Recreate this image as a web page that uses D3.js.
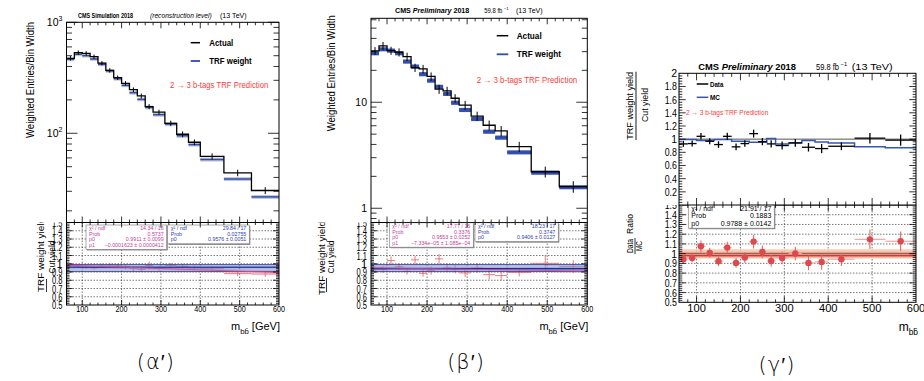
<!DOCTYPE html>
<html>
<head>
<meta charset="utf-8">
<script src="https://cdn.jsdelivr.net/npm/d3@7"></script>
<style>
    body { margin: 0; background: #fff; }
    svg { display: block; }
</style>
</head>
<body>
<svg id="fig" width="924" height="381"></svg>
<script>
const FONT = '"Liberation Sans", Arial, Helvetica, sans-serif';

// ---------------- data ----------------
// m_bb bin edges (GeV)
const binEdges = [60, 80, 100, 120, 140, 160, 180, 200, 220, 240, 260, 280, 310, 340, 370, 400, 460, 530, 600];
const xTickLabels = [100, 200, 300, 400, 500, 600];
const ratioTickLabels = [0.5, 0.6, 0.7, 0.8, 0.9, 1, 1.1, 1.2, 1.3, 1.4, 1.5];
const gammaTickLabels = [0.2, 0.4, 0.6, 0.8, 1, 1.2, 1.4, 1.6, 1.8, 2];
const alphaLogLabels = [[100, '10', '2'], [1000, '10', '3']];
const betaLogLabels = [[1, '1', ''], [10, '10', '']];

// (a') simulation, reconstruction level
const alphaActual = [474, 532, 525, 490, 428, 369, 317, 282, 247, 217, 174, 155, 123, 98, 83, 62, 44, 30.5];
const alphaActualErr = [22, 25, 24, 22, 19, 17, 15, 13, 12, 11, 9, 8, 7, 6, 5, 4, 3, 2.2];
const alphaTrf = [464, 515, 500, 467, 418, 364, 310, 270, 232, 202, 171, 147, 121, 95, 79, 58, 38.7, 26.7];
const alphaTrfErr = [18, 20, 19, 18, 16, 14, 12, 10, 9, 8, 7, 6, 5, 4, 3.2, 2.4, 1.6, 1.1];
const alphaRatio = [0.98, 0.97, 0.955, 0.95, 0.975, 0.985, 0.975, 0.96, 0.94, 0.93, 0.98, 0.945, 0.98, 0.97, 0.95, 0.94, 0.88, 0.875];
const alphaRatioErr = [0.02, 0.02, 0.02, 0.02, 0.025, 0.025, 0.025, 0.03, 0.03, 0.03, 0.045, 0.03, 0.03, 0.03, 0.03, 0.03, 0.03, 0.035];
const alphaFit = { pol1: [0.9911, -0.0001623], pol0: 0.9576 };
const alphaBox1 = [['χ² / ndf', '14.34 / 16'], ['Prob', '0.5737'], ['p0', '0.9911 ± 0.0099'], ['p1', '−0.0001623 ± 0.0000412']];
const alphaBox2 = [['χ² / ndf', '29.84 / 17'], ['Prob', '0.02755'], ['p0', '0.9576 ± 0.0051']];

// (b') 2018 data
const betaActual = [30.5, 34, 30.7, 29.6, 26.9, 21.2, 20.6, 17.5, 13.3, 12.8, 10.9, 9.4, 7.4, 6.07, 5.36, 3.81, 2.21, 1.6];
const betaActualErr = [2.6, 3, 2.7, 2.6, 2.4, 1.9, 1.9, 1.6, 1.3, 1.2, 1.0, 0.9, 0.75, 0.65, 0.6, 0.42, 0.26, 0.2];
const betaTrf = [29.0, 31.6, 30.7, 29.0, 24.2, 21.7, 18.4, 16.0, 14.0, 12.0, 9.9, 8.46, 6.95, 5.28, 4.64, 3.37, 2.17, 1.58];
const betaTrfErr = [1.3, 1.4, 1.4, 1.3, 1.1, 1.0, 0.83, 0.72, 0.63, 0.54, 0.45, 0.38, 0.31, 0.24, 0.21, 0.15, 0.1, 0.07];
const betaRatio = [0.929, 0.929, 1.038, 0.965, 0.908, 1.047, 0.884, 0.917, 1.059, 0.95, 0.932, 0.889, 0.948, 0.868, 0.856, 0.896, 1.005, 0.965];
const betaRatioErr = [0.04, 0.04, 0.05, 0.04, 0.04, 0.05, 0.04, 0.05, 0.06, 0.05, 0.05, 0.05, 0.06, 0.06, 0.06, 0.05, 0.1, 0.08];
const betaFit = { pol1: [0.9553, -0.00007334], pol0: 0.9406 };
const betaBox1 = [['χ² / ndf', '17.77 / 16'], ['Prob', '0.3376'], ['p0', '0.9553 ± 0.0252'], ['p1', '−7.334e−05 ± 1.085e−04']];
const betaBox2 = [['χ² / ndf', '18.23 / 17'], ['Prob', '0.3747'], ['p0', '0.9406 ± 0.0127']];

// (g') TRF yield / cut yield, data vs MC
const gammaData = [0.928, 0.933, 1.043, 0.968, 0.918, 1.043, 0.883, 0.933, 1.084, 0.963, 0.928, 0.903, 0.943, 0.877, 0.857, 0.892, 1.015, 0.985];
const gammaDataErr = [0.045, 0.045, 0.05, 0.045, 0.05, 0.055, 0.05, 0.05, 0.06, 0.055, 0.055, 0.06, 0.06, 0.065, 0.07, 0.06, 0.08, 0.085];
const gammaMC = [0.993, 0.993, 0.978, 0.978, 0.993, 0.993, 0.968, 0.968, 0.953, 0.953, 1.008, 0.928, 0.943, 0.978, 0.958, 0.943, 0.883, 0.868];
const gammaRatio = [0.943, 0.956, 1.076, 1.007, 0.922, 1.062, 0.905, 0.96, 1.124, 1.018, 0.925, 0.956, 1.001, 0.905, 0.915, 0.943, 1.147, 1.127];
const gammaRatioErr = [0.04, 0.045, 0.06, 0.05, 0.05, 0.06, 0.05, 0.055, 0.07, 0.065, 0.06, 0.065, 0.07, 0.075, 0.08, 0.07, 0.1, 0.1];
const gammaFit = 0.9788;
const gammaBox = [['χ² / ndf', '21.91 / 17'], ['Prob', '0.1883'], ['p0', '0.9788 ± 0.0142']];

// ---------------- helpers ----------------
const svg = d3.select('#fig');

function addText(g, x, y, str, size, o = {}) {
    let t = g.append('text')
        .attr('x', x).attr('y', y)
        .attr('text-anchor', o.anchor || 'start')
        .style('font-family', o.family || FONT)
        .style('font-size', size + 'px')
        .style('font-weight', o.weight || 'normal')
        .style('font-style', o.style || 'normal')
        .style('fill', o.fill || '#000')
        .text(str);
    if (o.width) t.attr('textLength', o.width).attr('lengthAdjust', 'spacingAndGlyphs');
    if (o.transform) t.attr('transform', o.transform);
    return t;
}

// "59.8 fb" plus a separate superscript so the two never share one box
function lumiText(g, x, y, size, w) {
    addText(g, x, y, '59.8 fb', size, { width: w });
    addText(g, x + w + 1.6, y - size * 0.42, '−1', size * 0.6);
}

function binsOf(vals, errs) {
    return vals.map((v, i) => ({
        lo: binEdges[i], hi: binEdges[i + 1],
        c: (binEdges[i] + binEdges[i + 1]) / 2,
        v: v, e: errs ? errs[i] : 0
    }));
}

function frame(g, x0, x1, y0, y1) {
    g.append('rect')
        .attr('x', x0).attr('y', y0)
        .attr('width', x1 - x0).attr('height', y1 - y0)
        .style('fill', 'none').style('stroke', '#000').style('stroke-width', 1);
}

function xTickMarks(g, x, y0, y1, maj, min) {
    let vals = d3.range(80, 600, 20);
    [[y1, -1], [y0, 1]].forEach(([base, dir]) => {
        g.selectAll(null).data(vals).join('line')
            .attr('x1', d => x(d)).attr('x2', d => x(d))
            .attr('y1', base).attr('y2', d => base + dir * (d % 100 === 0 ? maj : min))
            .style('stroke', '#000').style('stroke-width', 0.8);
    });
}

function yTickMarks(g, y, vals, isMajor, x0, x1, maj, min) {
    [[x0, 1], [x1, -1]].forEach(([base, dir]) => {
        g.selectAll(null).data(vals).join('line')
            .attr('y1', d => y(d)).attr('y2', d => y(d))
            .attr('x1', base).attr('x2', d => base + dir * (isMajor(d) ? maj : min))
            .style('stroke', '#000').style('stroke-width', 0.8);
    });
}

function xLabels(g, x, yBase, size, w) {
    xTickLabels.forEach(v => addText(g, x(v), yBase, String(v), size, { anchor: 'middle', width: w }));
}

function dottedGrid(g, x, y, x0, x1, y0, y1, yVals) {
    g.selectAll(null).data(yVals).join('line')
        .attr('x1', x0).attr('x2', x1)
        .attr('y1', d => y(d)).attr('y2', d => y(d))
        .style('stroke', '#222').style('stroke-width', 0.6).style('stroke-dasharray', '1.5,1.5');
    g.selectAll(null).data([100, 200, 300, 400, 500]).join('line')
        .attr('x1', d => x(d)).attr('x2', d => x(d))
        .attr('y1', y0).attr('y2', y1)
        .style('stroke', '#222').style('stroke-width', 0.6).style('stroke-dasharray', '1.5,1.5');
}

function statBox(g, x0, y0, w, rows, color, size, lh) {
    let h = rows.length * lh + 2;
    g.append('rect').attr('x', x0 + 1).attr('y', y0 + 1).attr('width', w).attr('height', h)
        .style('fill', '#777');
    g.append('rect').attr('x', x0).attr('y', y0).attr('width', w).attr('height', h)
        .style('fill', '#fff').style('stroke', '#888').style('stroke-width', 0.7);
    rows.forEach((r, i) => {
        let by = y0 + lh * (i + 1) - 0.5;
        addText(g, x0 + 3, by, r[0], size, { fill: color });
        addText(g, x0 + w - 3, by, r[1], size, { fill: color, anchor: 'end' });
    });
}

function isTenth(d) { return Math.abs(d * 10 - Math.round(d * 10)) < 1e-6; }

function mbbTitle(g, xRight, yBase, withUnit, size) {
    let t = g.append('text')
        .attr('x', xRight).attr('y', yBase)
        .attr('text-anchor', 'end')
        .style('font-family', FONT).style('font-size', size + 'px');
    t.append('tspan').text('m');
    t.append('tspan').attr('dy', 4).style('font-size', (size * 0.7) + 'px').text('bb\u0304');
    if (withUnit) t.append('tspan').attr('dy', -4).text(' [GeV]');
    return t;
}

// ---------------- alpha / beta panels ----------------
function drawHistPanel(cfg) {
    let g = svg.append('g');
    let x = d3.scaleLinear().domain([60, 600]).range([cfg.x0, cfg.x1]);
    let y = d3.scaleLog().domain(cfg.yDomain).range([cfg.mid, cfg.top]);
    let yr = d3.scaleLinear().domain([0.5, 1.5]).range([cfg.bot, cfg.mid]);

    let actual = binsOf(cfg.actual, cfg.actualErr);
    let trf = binsOf(cfg.trf, cfg.trfErr);
    let ratio = binsOf(cfg.ratio, cfg.ratioErr);

    // header
    let hx = cfg.header;
    addText(g, hx[0][0], cfg.headerY, hx[0][1], 7, { weight: 'bold', width: hx[0][2] })
        .call(t => { if (cfg.prelim) { t.text(null); t.append('tspan').text('CMS '); t.append('tspan').style('font-style', 'italic').text('Preliminary'); t.append('tspan').text(' 2018'); } });
    if (cfg.prelim) lumiText(g, hx[1][0], cfg.headerY, 7, hx[1][2]);
    else addText(g, hx[1][0], cfg.headerY, hx[1][1], 7, { style: 'italic', width: hx[1][2] });
    addText(g, hx[2][0], cfg.headerY, hx[2][1], 7, { width: hx[2][2] });

    // ---- upper pad ----
    // TRF weight band
    g.selectAll('.trfband').data(trf).join('rect')
        .attr('x', d => x(d.lo)).attr('width', d => x(d.hi) - x(d.lo))
        .attr('y', d => y(d.v + d.e)).attr('height', d => y(d.v - d.e) - y(d.v + d.e))
        .style('fill', cfg.bandColor);
    g.selectAll('.trfline').data(trf).join('line')
        .attr('x1', d => x(d.lo)).attr('x2', d => x(d.hi))
        .attr('y1', d => y(d.v)).attr('y2', d => y(d.v))
        .style('stroke', '#2d4db0').style('stroke-width', cfg.trfWidth);

    // actual histogram
    let pts = actual.map(d => [d.lo, d.v]).concat([[600, actual[actual.length - 1].v]]);
    let step = d3.line().x(d => x(d[0])).y(d => y(d[1])).curve(d3.curveStepAfter);
    g.append('path').datum(pts).attr('d', step)
        .style('fill', 'none').style('stroke', '#000').style('stroke-width', 1.3);
    g.selectAll('.acterr').data(actual).join('line')
        .attr('x1', d => x(d.c)).attr('x2', d => x(d.c))
        .attr('y1', d => y(d.v - d.e)).attr('y2', d => y(d.v + d.e))
        .style('stroke', '#000').style('stroke-width', 1);

    frame(g, cfg.x0, cfg.x1, cfg.top, cfg.mid);
    yTickMarks(g, y, y.ticks(), d => Math.abs(Math.log10(d) - Math.round(Math.log10(d))) < 1e-6, cfg.x0, cfg.x1, 11, 5.5);
    xTickMarks(g, x, cfg.top, cfg.mid, 6, 3);
    cfg.logLabels.forEach(([v, base, exp]) => {
        addText(g, cfg.x0 - 4 - (exp ? 4 : 0), y(v) + 4, base, 10.5, { anchor: 'end' });
        if (exp) addText(g, cfg.x0 - 4, y(v) - 1, exp, 7, { anchor: 'end' });
    });
    addText(g, 0, 0, 'Weighted Entries/Bin Width', 10.5, {
        anchor: 'middle', width: 116, transform: `translate(${cfg.titleX},${cfg.titleY}) rotate(-90)`
    });

    // legend
    let lg = cfg.legend;
    g.append('line').attr('x1', lg.lx0).attr('x2', lg.lx1).attr('y1', lg.y1).attr('y2', lg.y1)
        .style('stroke', '#000').style('stroke-width', 1.5);
    g.append('line').attr('x1', lg.lx0).attr('x2', lg.lx1).attr('y1', lg.y2).attr('y2', lg.y2)
        .style('stroke', '#2d4db0').style('stroke-width', 1.8);
    addText(g, lg.tx, lg.y1 + 3, 'Actual', 8.5, { weight: 'bold', width: lg.w1 });
    addText(g, lg.tx, lg.y2 + 3, 'TRF weight', 8.5, { weight: 'bold', width: lg.w2 });
    addText(g, lg.rx, lg.ry, '2 → 3 b-tags TRF Prediction', 8.5, { fill: '#ff3b3b', width: lg.rw });

    // ---- lower pad ----
    svg.append('clipPath').attr('id', 'clip' + cfg.id)
        .append('rect').attr('x', cfg.padX).attr('y', cfg.mid).attr('width', 300).attr('height', 381 - cfg.mid);
    let lo = svg.append('g').attr('clip-path', `url(#clip${cfg.id})`);

    dottedGrid(lo, x, yr, cfg.x0, cfg.x1, cfg.mid, cfg.bot, ratioTickLabels.slice(1, -1));

    // pol1 fit band
    let pol = v => cfg.fit.pol1[0] + cfg.fit.pol1[1] * v;
    let polArea = d3.area().x(d => x(d)).y0(d => yr(pol(d) - 0.02)).y1(d => yr(pol(d) + 0.02));
    lo.append('path').datum([60, 600]).attr('d', polArea).style('fill', '#f5b8cc').style('opacity', 0.75);

    // ratio points
    lo.selectAll('.rh').data(ratio).join('line')
        .attr('x1', d => x(d.lo)).attr('x2', d => x(d.hi))
        .attr('y1', d => yr(d.v)).attr('y2', d => yr(d.v))
        .style('stroke', '#e86a6a').style('stroke-width', 0.9);
    lo.selectAll('.rv').data(ratio).join('line')
        .attr('x1', d => x(d.c)).attr('x2', d => x(d.c))
        .attr('y1', d => yr(d.v - d.e)).attr('y2', d => yr(d.v + d.e))
        .style('stroke', '#e86a6a').style('stroke-width', 0.9);

    // pol0 fit band
    lo.append('rect').attr('x', cfg.x0).attr('width', cfg.x1 - cfg.x0)
        .attr('y', yr(0.99)).attr('height', yr(0.905) - yr(0.99))
        .style('fill', '#7d8fd6').style('opacity', 0.55);
    lo.append('rect').attr('x', cfg.x0).attr('width', cfg.x1 - cfg.x0)
        .attr('y', yr(cfg.fit.pol0 + 0.012)).attr('height', yr(cfg.fit.pol0 - 0.012) - yr(cfg.fit.pol0 + 0.012))
        .style('fill', '#4a5db8').style('opacity', 0.45);
    [0.99, 0.905].forEach(v => lo.append('line').attr('x1', cfg.x0).attr('x2', cfg.x1)
        .attr('y1', yr(v)).attr('y2', yr(v)).style('stroke', '#2a3580').style('stroke-width', 0.8));
    lo.append('line').attr('x1', cfg.x0).attr('x2', cfg.x1)
        .attr('y1', yr(cfg.fit.pol0)).attr('y2', yr(cfg.fit.pol0))
        .style('stroke', '#1d2b8f').style('stroke-width', 1.1);
    lo.append('line').attr('x1', x(60)).attr('x2', x(600))
        .attr('y1', yr(pol(60))).attr('y2', yr(pol(600)))
        .style('stroke', '#d04c9c').style('stroke-width', 0.9);

    statBox(lo, cfg.box1[0], cfg.box1[1], cfg.box1[2], cfg.boxRows1, '#c5409a', 5.3, 5.6);
    statBox(lo, cfg.box2[0], cfg.box2[1], cfg.box2[2], cfg.boxRows2, '#3240b0', 5.3, 5.6);

    frame(lo, cfg.x0, cfg.x1, cfg.mid, cfg.bot);
    let ratioTicks = d3.range(26, 75).map(k => k / 50);
    yTickMarks(lo, yr, ratioTicks, isTenth, cfg.x0, cfg.x1, 6, 3);
    xTickMarks(lo, x, cfg.mid, cfg.bot, 5, 2.5);
    ratioTickLabels.forEach(v => addText(lo, cfg.x0 - 4, yr(v) + 4, String(v), 11,
        { anchor: 'end', width: v === 1 ? null : 10.5 }));
    xLabels(lo, x, cfg.bot + 7, 9.5, 12);

    // ratio axis title
    let rt = cfg.rTitle;
    addText(lo, 0, 0, 'TRF weight yield', 9.5, { anchor: 'middle', width: 74, transform: `translate(${rt.x1},${rt.y}) rotate(-90)` });
    addText(lo, 0, 0, 'Cut yield', 9.5, { anchor: 'middle', width: 33, transform: `translate(${rt.x2},${rt.y2}) rotate(-90)` });
    lo.append('line').attr('x1', rt.bar).attr('x2', rt.bar).attr('y1', rt.b0).attr('y2', rt.b1)
        .style('stroke', '#000').style('stroke-width', 0.8);

    mbbTitle(lo, cfg.x1 + 1, cfg.bot + 25, true, 11);

    addText(svg, cfg.capX, cfg.capY, '(' + cfg.cap + '′)', 21, { anchor: 'middle', family: '"DejaVu Sans", sans-serif' })
        .style('font-weight', 300).style('letter-spacing', '1px');
}

drawHistPanel({
    id: 'a', padX: 0, prelim: false,
    x0: 66.5, x1: 279, top: 22.3, mid: 222.5, bot: 305,
    yDomain: [15.7, 1000], logLabels: alphaLogLabels,
    actual: alphaActual, actualErr: alphaActualErr, trf: alphaTrf, trfErr: alphaTrfErr,
    ratio: alphaRatio, ratioErr: alphaRatioErr, fit: alphaFit,
    bandColor: '#c4c6d0', trfWidth: 1.5,
    headerY: 18.3,
    header: [[78, 'CMS Simulation 2018', 55], [150, '(reconstruction level)', 61.7], [220, '(13 TeV)', 26.7]],
    titleX: 33.5, titleY: 80,
    legend: { lx0: 190.7, lx1: 200, y1: 42.7, y2: 61, tx: 209.3, w1: 24, w2: 42.4, rx: 170, ry: 88, rw: 98.3 },
    box1: [86, 225, 80.7], box2: [167.7, 225, 81.6], boxRows1: alphaBox1, boxRows2: alphaBox2,
    rTitle: { x1: 44, x2: 54.5, y: 255, y2: 257, bar: 46.5, b0: 279, b1: 292 },
    cap: 'α', capX: 155.8, capY: 369
});

drawHistPanel({
    id: 'b', padX: 300, prelim: true,
    x0: 371, x1: 587.3, top: 18.3, mid: 222.5, bot: 305,
    yDomain: [0.734, 61.9], logLabels: betaLogLabels,
    actual: betaActual, actualErr: betaActualErr, trf: betaTrf, trfErr: betaTrfErr,
    ratio: betaRatio, ratioErr: betaRatioErr, fit: betaFit,
    bandColor: '#3652b0', trfWidth: 1.2,
    headerY: 13.3,
    header: [[395, 'CMS Preliminary 2018', 74.3], [484.3, '59.8 fb', 18], [516, '(13 TeV)', 26.7]],
    titleX: 335, titleY: 73.3,
    legend: { lx0: 496.7, lx1: 508.3, y1: 35.7, y2: 54.3, tx: 516.7, w1: 25, w2: 44.3, rx: 476.7, ry: 83, rw: 100.6 },
    box1: [389.3, 222.8, 84], box2: [475, 222.8, 83.3], boxRows1: betaBox1, boxRows2: betaBox2,
    rTitle: { x1: 324.5, x2: 334, y: 258, y2: 257, bar: 326.5, b0: 278, b1: 292 },
    cap: 'β', capX: 466, capY: 369
});

// ---------------- gamma panel ----------------
(function drawGamma() {
    let g = svg.append('g');
    let x0 = 679, x1 = 916, top = 73.3, mid = 205, bot = 302.3;
    let x = d3.scaleLinear().domain([60, 600]).range([x0, x1]);
    let y = d3.scaleLinear().domain([0, 2]).range([mid, top]);
    let yr = d3.scaleLinear().domain([0.5, 1.5]).range([bot, mid]);

    let data = binsOf(gammaData, gammaDataErr);
    let mc = binsOf(gammaMC);
    let ratio = binsOf(gammaRatio, gammaRatioErr);

    // header
    let h = addText(g, 698.3, 70, '', 9.5, { weight: 'bold', width: 97.7 });
    h.append('tspan').text('CMS ');
    h.append('tspan').style('font-style', 'italic').text('Preliminary');
    h.append('tspan').text(' 2018');
    lumiText(g, 816, 70, 9.5, 23);
    addText(g, 851.7, 70, '(13 TeV)', 9.5, { width: 41 });

    // upper pad
    g.append('line').attr('x1', x0).attr('x2', x1).attr('y1', y(1)).attr('y2', y(1))
        .style('stroke', '#555').style('stroke-width', 1);
    let pts = mc.map(d => [d.lo, d.v]).concat([[600, mc[mc.length - 1].v]]);
    g.append('path').datum(pts)
        .attr('d', d3.line().x(d => x(d[0])).y(d => y(d[1])).curve(d3.curveStepAfter))
        .style('fill', 'none').style('stroke', '#3456b8').style('stroke-width', 1.5);
    g.selectAll('.dh').data(data).join('line')
        .attr('x1', d => x(d.lo)).attr('x2', d => x(d.hi))
        .attr('y1', d => y(d.v)).attr('y2', d => y(d.v))
        .style('stroke', '#000').style('stroke-width', 1.3);
    g.selectAll('.dv').data(data).join('line')
        .attr('x1', d => x(d.c)).attr('x2', d => x(d.c))
        .attr('y1', d => y(d.v - d.e)).attr('y2', d => y(d.v + d.e))
        .style('stroke', '#000').style('stroke-width', 1.3);

    frame(g, x0, x1, top, mid);
    let yt = d3.range(1, 50).map(k => k * 0.04);
    yTickMarks(g, y, yt, d => Math.abs(d * 5 - Math.round(d * 5)) < 1e-6, x0, x1, 6.7, 3.3);
    xTickMarks(g, x, top, mid, 7, 3.5);
    gammaTickLabels.forEach(v => addText(g, 677, y(v) + 4, String(v), 10.5,
        { anchor: 'end', width: String(v).length > 1 ? 12.3 : null }));

    addText(g, 0, 0, 'TRF weight yield', 9.5, { anchor: 'middle', width: 68, transform: 'translate(633,105.8) rotate(-90)' });
    addText(g, 0, 0, 'Cut yield', 9.5, { anchor: 'middle', width: 34, transform: 'translate(648,105) rotate(-90)' });
    g.append('line').attr('x1', 636).attr('x2', 636).attr('y1', 71.7).attr('y2', 140)
        .style('stroke', '#000').style('stroke-width', 0.9);

    // legend
    g.append('line').attr('x1', 696.7).attr('x2', 708.3).attr('y1', 84).attr('y2', 84)
        .style('stroke', '#000').style('stroke-width', 1.5);
    g.append('line').attr('x1', 696.7).attr('x2', 708.3).attr('y1', 97.3).attr('y2', 97.3)
        .style('stroke', '#3456b8').style('stroke-width', 1.5);
    addText(g, 710, 86.6, 'Data', 7, { weight: 'bold', width: 13.3 });
    addText(g, 710, 99.9, 'MC', 7, { weight: 'bold', width: 10 });
    addText(g, 686, 115, '2 → 3 b-tags TRF Prediction', 7, { fill: '#ff3b3b', width: 82.3 });

    // lower pad
    svg.append('clipPath').attr('id', 'clipg')
        .append('rect').attr('x', 600).attr('y', mid).attr('width', 324).attr('height', 381 - mid);
    let lo = svg.append('g').attr('clip-path', 'url(#clipg)');

    dottedGrid(lo, x, yr, x0, x1, mid, bot, ratioTickLabels.slice(1, -1));

    // fit band
    lo.append('rect').attr('x', x0).attr('width', x1 - x0)
        .attr('y', yr(1.045)).attr('height', yr(0.95) - yr(1.045))
        .style('fill', '#f9c3a6').style('opacity', 0.85);
    lo.append('rect').attr('x', x0).attr('width', x1 - x0)
        .attr('y', yr(1.018)).attr('height', yr(0.962) - yr(1.018))
        .style('fill', '#f08c7c').style('opacity', 0.75);
    lo.append('line').attr('x1', x0).attr('x2', x1).attr('y1', yr(1)).attr('y2', yr(1))
        .style('stroke', '#555').style('stroke-width', 0.8);
    lo.append('line').attr('x1', x0).attr('x2', x1).attr('y1', yr(gammaFit)).attr('y2', yr(gammaFit))
        .style('stroke', '#c83a3a').style('stroke-width', 1.2);

    lo.selectAll('.rh').data(ratio).join('line')
        .attr('x1', d => x(d.lo)).attr('x2', d => x(d.hi))
        .attr('y1', d => yr(d.v)).attr('y2', d => yr(d.v))
        .style('stroke', '#f3a4a4').style('stroke-width', 1.2);
    lo.selectAll('.rv').data(ratio).join('line')
        .attr('x1', d => x(d.c)).attr('x2', d => x(d.c))
        .attr('y1', d => yr(d.v - d.e)).attr('y2', d => yr(d.v + d.e))
        .style('stroke', '#e06a6a').style('stroke-width', 1.1);
    lo.selectAll('.rp').data(ratio).join('circle')
        .attr('cx', d => x(d.c)).attr('cy', d => yr(d.v)).attr('r', 3.2)
        .style('fill', '#dc4a50');

    statBox(lo, 688.3, 204, 86, gammaBox, '#000', 7, 7.4);

    frame(lo, x0, x1, mid, bot);
    yTickMarks(lo, yr, d3.range(26, 75).map(k => k / 50), isTenth, x0, x1, 6.7, 3.3);
    xTickMarks(lo, x, mid, bot, 6, 3);
    ratioTickLabels.forEach(v => addText(lo, 677, yr(v) + 4, String(v), 10.5,
        { anchor: 'end', width: v === 1 ? null : 12.3 }));
    xLabels(lo, x, 311.7, 11, 18.5);

    addText(lo, 0, 0, 'Data', 8.5, { anchor: 'middle', width: 14, transform: 'translate(633,246) rotate(-90)' });
    addText(lo, 0, 0, 'MC', 8.5, { anchor: 'middle', width: 10, transform: 'translate(642,246) rotate(-90)' });
    addText(lo, 0, 0, 'Ratio', 8.5, { anchor: 'middle', width: 20, transform: 'translate(633,224) rotate(-90)' });
    lo.append('line').attr('x1', 635).attr('x2', 635).attr('y1', 238).attr('y2', 254)
        .style('stroke', '#000').style('stroke-width', 0.8);

    mbbTitle(lo, 918, 331, false, 12);

    addText(svg, 777, 372, '(γ′)', 21, { anchor: 'middle', family: '"DejaVu Sans", sans-serif' })
        .style('font-weight', 300).style('letter-spacing', '1px');
})();
</script>
</body>
</html>
